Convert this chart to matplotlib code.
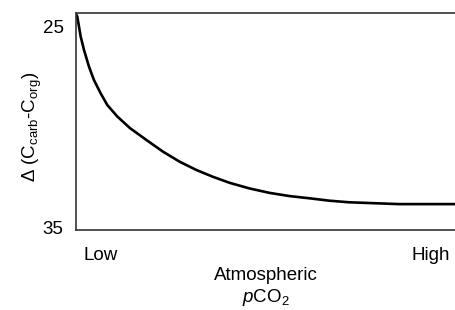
import matplotlib
matplotlib.use('Agg')
import matplotlib.pyplot as plt

# valores (x: 0 = bajo, 100 = alto)
pco2 = [0, 0.34, 1.24, 2.11, 3.42, 4.74, 6.50, 8.24, 10.87, 14.21, 18.61, 22.97, 27.37,
        31.76, 36.13, 40.53, 45.79, 51.05, 56.32, 61.58, 66.84, 72.11, 85.26, 100]
delta = [24.37, 24.50, 25.50, 26.16, 26.99, 27.66, 28.32, 28.90, 29.47, 30.05, 30.65, 31.23, 31.73,
         32.14, 32.48, 32.78, 33.06, 33.28, 33.44, 33.55, 33.67, 33.75, 33.84, 33.84]

xticks = [6.6, 93.7]
xtick_labels = ['Low', 'High']
yticks = [25, 35]

plt.rcParams['font.family'] = ['Liberation Sans', 'DejaVu Sans']
plt.rcParams['mathtext.fontset'] = 'custom'
plt.rcParams['mathtext.rm'] = 'Liberation Sans'
plt.rcParams['mathtext.it'] = 'Liberation Sans:italic'

fs = 13.5

fig = plt.figure(figsize=(4.55, 3.1), dpi=100)
ax = fig.add_axes([76/455, 1 - 230/310, 1 - 76/455, 217/310])

ax.plot(pco2, delta, color='black', linewidth=1.9, solid_capstyle='butt', solid_joinstyle='round')

ax.set_xlim(0, 100)
ax.set_ylim(35.13, 24.32)  # eje invertido

ax.set_xticks(xticks)
ax.set_xticklabels(xtick_labels, fontsize=fs)
ax.set_yticks(yticks)
ax.set_yticklabels([str(v) for v in yticks], fontsize=fs)
ax.tick_params(axis='both', length=0)
ax.tick_params(axis='x', pad=12)
ax.tick_params(axis='y', pad=9)

ax.spines['right'].set_visible(False)
for s in ['left', 'top', 'bottom']:
    ax.spines[s].set_linewidth(1.2)
    ax.spines[s].set_color('#333333')

ax.set_xlabel('Atmospheric\n$\\mathit{p}$CO$_2$', fontsize=fs, linespacing=1.2, labelpad=2.5)
ax.set_ylabel('Δ (C$_{\\mathrm{carb}}$-C$_{\\mathrm{org}}$)', fontsize=fs)
ax.yaxis.set_label_coords(-0.085, 0.475)

fig.savefig('out.png', dpi=100)
